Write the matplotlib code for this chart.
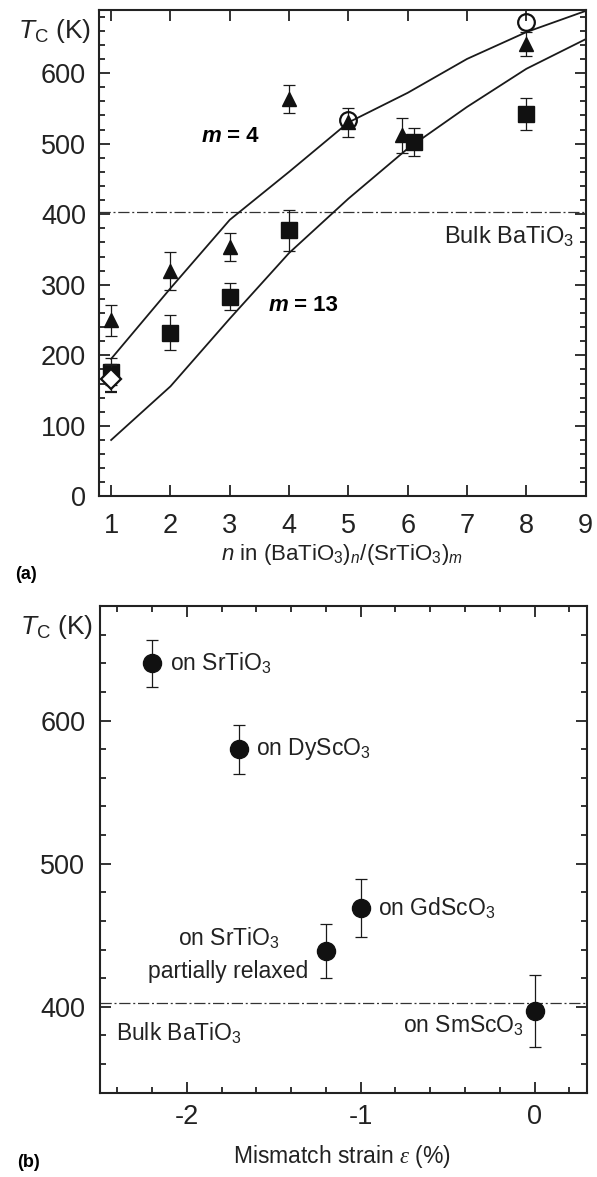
import matplotlib
matplotlib.use('Agg')
import matplotlib.pyplot as plt
from matplotlib.ticker import MultipleLocator, FixedLocator

plt.rcParams['font.family'] = ['Liberation Sans', 'DejaVu Sans']
plt.rcParams['mathtext.fontset'] = 'custom'
plt.rcParams['mathtext.rm'] = 'Liberation Sans'
plt.rcParams['mathtext.it'] = 'Liberation Sans:italic'
plt.rcParams['mathtext.bf'] = 'Liberation Sans:bold'
plt.rcParams['mathtext.sf'] = 'Liberation Serif:italic'
plt.rcParams['axes.unicode_minus'] = False

# ---------------- data: panel (a) ----------------
n_tri = [1, 2, 3, 4, 5, 5.9, 8]
tc_tri = [250, 320, 353, 563, 530, 512, 641]
err_tri = [22, 27, 20, 20, 21, 25, 17]

n_sq = [1, 2, 3, 4, 6.1, 8]
tc_sq = [177, 232, 283, 377, 502, 542]
err_sq = [19, 25, 19, 29, 20, 23]

n_circ = [5, 8]
tc_circ = [533, 672]

n_dia = [1]
tc_dia = [167]
err_dia = [19]

curve_n = [1, 2, 3, 4, 5, 6, 7, 8, 9]
tc_m4 = [195, 295, 392, 460, 530, 572, 620, 658, 688]
tc_m13 = [80, 156, 252, 345, 422, 493, 552, 606, 648]

bulk_tc = 403

# ---------------- data: panel (b) ----------------
strain = [-2.2, -1.7, -1.0, -1.2, 0.0]
tc_b = [640, 580, 469, 439, 397]
err_b = [16.5, 17, 20, 19, 25]

fig = plt.figure(figsize=(5.97, 11.77), dpi=100)
ax1 = fig.add_axes([0.1653, 0.5782, 0.8157, 0.4137])
ax2 = fig.add_axes([0.1675, 0.0716, 0.8152, 0.4135])

dashdot = (0, (9, 2.2, 1.6, 2.2))
for ax in (ax1, ax2):
    for s in ax.spines.values():
        s.set_linewidth(1.5)
        s.set_color('#222222')
    ax.tick_params(which='both', direction='in', top=True, right=True,
                   width=1.3, color='#222222', labelsize=19.5, labelcolor='#222222')
    ax.tick_params(which='major', length=8)
    ax.tick_params(which='minor', length=4.5)

# ---------------- panel (a) ----------------
ax1.set_xlim(0.79, 9)
ax1.set_ylim(0, 690)
ax1.xaxis.set_major_locator(FixedLocator(range(1, 10)))
ax1.yaxis.set_major_locator(FixedLocator(range(0, 700, 100)))
ax1.yaxis.set_minor_locator(MultipleLocator(20))
ax1.tick_params(axis='x', which='both', pad=12)
ax1.tick_params(axis='y', which='both', pad=9)

ax1.plot(curve_n, tc_m4, color='#1a1a1a', lw=1.3, zorder=2)
ax1.plot(curve_n, tc_m13, color='#1a1a1a', lw=1.3, zorder=2)
ax1.axhline(bulk_tc, color='#333333', lw=0.9, ls=dashdot, zorder=1)

ek = dict(ecolor='#1a1a1a', elinewidth=0.9, capsize=4.2, capthick=0.9, ls='none')
ax1.errorbar(n_sq, tc_sq, yerr=err_sq, fmt='s', ms=11, mfc='#111111', mec='#111111', zorder=3, **ek)
ax1.errorbar(n_tri, tc_tri, yerr=err_tri, fmt='^', ms=10, mfc='#111111', mec='#111111', zorder=4, **ek)
ax1.errorbar(n_dia, tc_dia, yerr=err_dia, fmt='D', ms=10, mfc='white', mec='#111111', mew=1.6, zorder=5, **ek)
ax1.plot(n_circ, tc_circ, 'o', ms=12, mfc='none', mec='#111111', mew=1.6, zorder=5)

t1 = ax1.text(2.52, 510, 'm', fontsize=16, fontweight='bold', style='italic', va='center', ha='left')
ax1.annotate(' = 4', xy=(1, 0), xycoords=t1, fontsize=16, fontweight='bold', va='bottom', ha='left')
t2 = ax1.text(3.65, 271, 'm', fontsize=16, fontweight='bold', style='italic', va='center', ha='left')
ax1.annotate(' = 13', xy=(1, 0), xycoords=t2, fontsize=16, fontweight='bold', va='bottom', ha='left')

ax1.text(8.8, 368, 'Bulk BaTiO$_3$', fontsize=17, ha='right', va='center', color='#222222')
ax1.text(-0.015, 0.955, r'$T_\mathrm{C}$ (K)', transform=ax1.transAxes, fontsize=19,
         ha='right', va='center', color='#222222')

fig.text(0.572, 0.5290, '$n$ in (BaTiO$_3$)$_n$/(SrTiO$_3$)$_m$', fontsize=16,
         ha='center', va='center', color='#222222')
fig.text(0.043, 0.5115, '(a)', fontsize=13, fontweight='bold', ha='center', va='center')

# ---------------- panel (b) ----------------
ax2.set_xlim(-2.5, 0.3)
ax2.set_ylim(340, 680)
ax2.xaxis.set_major_locator(FixedLocator([-2, -1, 0]))
ax2.xaxis.set_minor_locator(MultipleLocator(0.2))
ax2.yaxis.set_major_locator(FixedLocator([400, 500, 600]))
ax2.yaxis.set_minor_locator(MultipleLocator(20))
ax2.tick_params(axis='x', which='both', pad=8)
ax2.tick_params(axis='y', which='both', pad=10.5)

ax2.axhline(bulk_tc, color='#333333', lw=0.9, ls=dashdot, zorder=1)
ax2.errorbar(strain, tc_b, yerr=err_b, fmt='o', ms=13, mfc='#111111', mec='#111111',
             zorder=3, **ek)

fs_b = 16.5
ax2.text(-2.1, 640, 'on SrTiO$_3$', fontsize=fs_b, ha='left', va='center', color='#222222')
ax2.text(-1.6, 580, 'on DyScO$_3$', fontsize=fs_b, ha='left', va='center', color='#222222')
ax2.text(-0.9, 469, 'on GdScO$_3$', fontsize=fs_b, ha='left', va='center', color='#222222')
ax2.text(-1.76, 448, 'on SrTiO$_3$', fontsize=fs_b, ha='center', va='center', color='#222222')
ax2.text(-1.76, 425, 'partially relaxed', fontsize=fs_b, ha='center', va='center', color='#222222')
ax2.text(-2.41, 382, 'Bulk BaTiO$_3$', fontsize=fs_b, ha='left', va='center', color='#222222')
ax2.text(-0.06, 387, 'on SmScO$_3$', fontsize=fs_b, ha='right', va='center', color='#222222')
ax2.text(-0.015, 0.9575, r'$T_\mathrm{C}$ (K)', transform=ax2.transAxes, fontsize=19,
         ha='right', va='center', color='#222222')

fig.text(0.572, 0.0170, r'Mismatch strain $\mathsf{\varepsilon}$ (%)', fontsize=16.5,
         ha='center', va='center', color='#222222')
fig.text(0.048, 0.0120, '(b)', fontsize=13, fontweight='bold', ha='center', va='center')

fig.savefig('out.png', dpi=100)
